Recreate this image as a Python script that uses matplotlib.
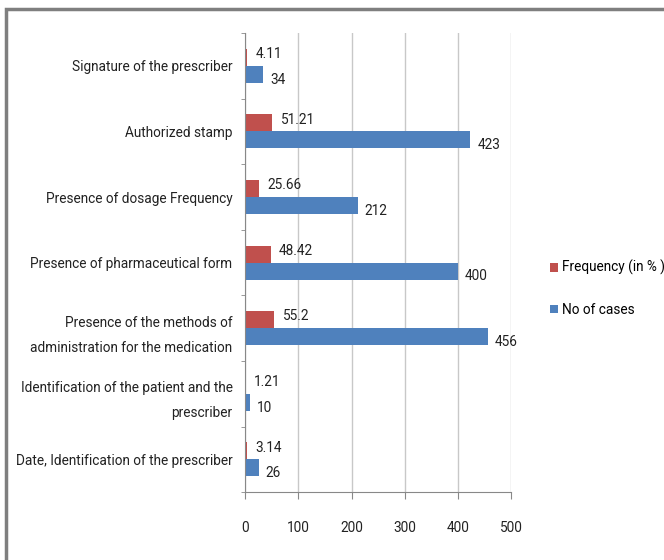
import numpy as np
import matplotlib.pyplot as plt

categories = ['Date, Identification of the prescriber',
              'Identification of the patient and the\nprescriber',
              'Presence of the methods of\nadministration for the medication',
              'Presence of pharmaceutical form',
              'Presence of dosage Frequency',
              'Authorized stamp',
              'Signature of the prescriber']
no_of_cases = [26, 10, 456, 400, 212, 423, 34]
frequency = [3.14, 1.21, 55.2, 48.42, 25.66, 51.21, 4.11]

plt.rcParams['font.family'] = ['Roboto', 'DejaVu Sans']

fig = plt.figure(figsize=(6.64, 5.6), dpi=100)
ax = fig.add_axes([0.369, 0.121, 0.401, 0.820])

# figure border
fig.patches.append(plt.Rectangle((0.009, -0.05), 1.2, 1.034, transform=fig.transFigure,
                                 fill=False, edgecolor='#7f7f7f', linewidth=2.5))

y = np.arange(len(categories))
h = 0.26
blue = '#4F81BD'
red = '#C0504D'
ax.barh(y - h / 2, no_of_cases, height=h, color=blue, label='No of cases')
ax.barh(y + h / 2, frequency, height=h, color=red, label='Frequency (in % )')

fs = 9.8
for yi, v in zip(y, no_of_cases):
    ax.annotate(f'{v}', (v, yi - h / 2 - 0.08), xytext=(5, 0), textcoords='offset points',
                va='center', ha='left', fontsize=fs, color='#222222')
for yi, v in zip(y, frequency):
    ax.annotate(f'{v:g}', (v, yi + h / 2 + 0.05), xytext=(6, 0), textcoords='offset points',
                va='center', ha='left', fontsize=fs, color='#222222')

ax.set_xlim(0, 500)
ax.set_ylim(-0.5, 6.5)
ax.set_xticks(np.arange(0, 501, 100))
ax.xaxis.grid(True, color='#c8c8c8', linewidth=1)
ax.set_axisbelow(True)

ax.set_yticks(y)
ax.set_yticklabels(categories, fontsize=fs, color='#222222', linespacing=2.0)
ax.set_yticks(np.arange(-0.5, 7, 1), minor=True)
ax.tick_params(axis='y', which='major', length=0, pad=9)
ax.tick_params(axis='y', which='minor', length=3, color='#888888')
ax.tick_params(axis='x', length=5, color='#888888', pad=16, labelsize=fs, labelcolor='#222222')

for s in ['top', 'right']:
    ax.spines[s].set_visible(False)
for s in ['left', 'bottom']:
    ax.spines[s].set_color('#888888')

handles, labels = ax.get_legend_handles_labels()
fig.legend(handles[::-1], labels[::-1], loc='center left', bbox_to_anchor=(0.81, 0.485),
           frameon=False, fontsize=fs, handlelength=0.6, handleheight=0.6,
           handletextpad=0.3, labelspacing=2.0)

fig.savefig('out.png', dpi=100)
